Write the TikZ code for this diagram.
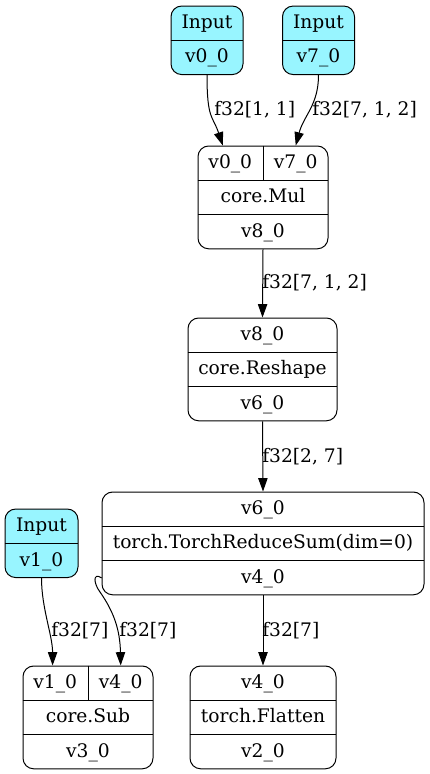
\documentclass[tikz,border=0pt]{standalone}
\usepackage{fontspec}
\setmainfont{DejaVu Serif}
\usepackage{tikz}
\usetikzlibrary{shapes,arrows.meta,positioning}
\definecolor{inputcol}{HTML}{98F5FF}
\tikzstyle{record} = [rectangle, draw, rounded corners=8pt, inner sep=0pt, line width=0.75pt]
\tikzstyle{field} = [rectangle, inner sep=0pt, minimum height=25.7pt,
    text height=11pt, text depth=3pt, font=\fontsize{14}{16}\selectfont]
\tikzstyle{edgelbl} = [anchor=west, inner sep=0pt, font=\fontsize{14}{16}\selectfont]
\tikzstyle{divider} = [line width=0.75pt]
\tikzstyle{arrow} = [line width=0.75pt, -{Triangle[length=10pt,width=7pt]}]

\begin{document}
\begin{tikzpicture}[x=0.75pt, y=-0.75pt]
		\useasboundingbox (0,0) rectangle (429,774);
		% inputs
		\node [record, fill=inputcol, minimum width=54pt, minimum height=51.4pt] (in0) at (207,40.3) {};
		\node [field, minimum width=54pt, below=0pt of in0.north] (in0-name) {Input};
		\node [field, minimum width=54pt, above=0pt of in0.south] (in0-out) {v0\_0};
		\draw [divider] (in0-name.south west) -- (in0-name.south east);

		\node [record, fill=inputcol, minimum width=54pt, minimum height=51.4pt] (in7) at (318.5,40.3) {};
		\node [field, minimum width=54pt, below=0pt of in7.north] (in7-name) {Input};
		\node [field, minimum width=54pt, above=0pt of in7.south] (in7-out) {v7\_0};
		\draw [divider] (in7-name.south west) -- (in7-name.south east);

		\node [record, fill=inputcol, minimum width=54.75pt, minimum height=51.4pt] (in1) at (41.5,543.3) {};
		\node [field, minimum width=54.75pt, below=0pt of in1.north] (in1-name) {Input};
		\node [field, minimum width=54.75pt, above=0pt of in1.south] (in1-out) {v1\_0};
		\draw [divider] (in1-name.south west) -- (in1-name.south east);

		% core.Mul
		\node [record, minimum width=97.5pt, minimum height=77.1pt] (mul) at (263,197.4) {};
		\node [field, minimum width=48.75pt, anchor=north west] (mul-in1) at (mul.north west) {v0\_0};
		\node [field, minimum width=48.75pt, anchor=north east] (mul-in2) at (mul.north east) {v7\_0};
		\node [field, minimum width=97.5pt] (mul-op) at (mul) {core.Mul};
		\node [field, minimum width=97.5pt, above=0pt of mul.south] (mul-out) {v8\_0};
		\draw [divider] (mul-in1.north east) -- (mul-in1.south east);
		\draw [divider] (mul-op.north west) -- (mul-op.north east);
		\draw [divider] (mul-op.south west) -- (mul-op.south east);

		% core.Reshape
		\node [record, minimum width=111.75pt, minimum height=77.1pt] (reshape) at (262.5,369.4) {};
		\node [field, minimum width=111.75pt, below=0pt of reshape.north] (reshape-in) {v8\_0};
		\node [field, minimum width=111.75pt] (reshape-op) at (reshape) {core.Reshape};
		\node [field, minimum width=111.75pt, above=0pt of reshape.south] (reshape-out) {v6\_0};
		\draw [divider] (reshape-op.north west) -- (reshape-op.north east);
		\draw [divider] (reshape-op.south west) -- (reshape-op.south east);

		% torch.TorchReduceSum
		\node [record, minimum width=241.5pt, minimum height=77.1pt] (reduce) at (263,543.4) {};
		\node [field, minimum width=241.5pt, below=0pt of reduce.north] (reduce-in) {v6\_0};
		\node [field, minimum width=241.5pt] (reduce-op) at (reduce) {torch.TorchReduceSum(dim=0)};
		\node [field, minimum width=241.5pt, above=0pt of reduce.south] (reduce-out) {v4\_0};
		\draw [divider] (reduce-op.north west) -- (reduce-op.north east);
		\draw [divider] (reduce-op.south west) -- (reduce-op.south east);

		% core.Sub
		\node [record, minimum width=97.5pt, minimum height=77.1pt] (sub) at (88,717.4) {};
		\node [field, minimum width=48.75pt, anchor=north west] (sub-in1) at (sub.north west) {v1\_0};
		\node [field, minimum width=48.75pt, anchor=north east] (sub-in2) at (sub.north east) {v4\_0};
		\node [field, minimum width=97.5pt] (sub-op) at (sub) {core.Sub};
		\node [field, minimum width=97.5pt, above=0pt of sub.south] (sub-out) {v3\_0};
		\draw [divider] (sub-in1.north east) -- (sub-in1.south east);
		\draw [divider] (sub-op.north west) -- (sub-op.north east);
		\draw [divider] (sub-op.south west) -- (sub-op.south east);

		% torch.Flatten
		\node [record, minimum width=109.5pt, minimum height=77.1pt] (flatten) at (263,717.4) {};
		\node [field, minimum width=109.5pt, below=0pt of flatten.north] (flatten-in) {v4\_0};
		\node [field, minimum width=109.5pt] (flatten-op) at (flatten) {torch.Flatten};
		\node [field, minimum width=109.5pt, above=0pt of flatten.south] (flatten-out) {v2\_0};
		\draw [divider] (flatten-op.north west) -- (flatten-op.north east);
		\draw [divider] (flatten-op.south west) -- (flatten-op.south east);

		% edges
		\draw [arrow] (in0-out.south) .. controls +(0,45) and +(-10,-30) .. ([xshift=-5.6pt]mul-in1.north);
		\draw [arrow] (in7-out.south) .. controls +(0,30) and +(8,-30) .. (mul-in2.north);
		\draw [arrow] (mul-out.south) -- (reshape-in.north);
		\draw [arrow] (reshape-out.south) -- (reduce-in.north);
		\draw [arrow] (reduce-out.south) -- (flatten-in.north);
		\draw [arrow] (in1-out.south) .. controls +(0,30) and +(0,-30) .. ([xshift=-2pt]sub-in1.north);
		\draw [arrow] (reduce-out.west) .. controls (92,572) and (94,584) .. (100,592)
			.. controls (114,612) and (120,630) .. (sub-in2.north);

		% edge labels
		\node [edgelbl] (lbl-in0) at (214,110) {f32[1, 1]};
		\node [edgelbl] (lbl-in7) at (312,110) {f32[7, 1, 2]};
		\node [edgelbl] (lbl-mul) at (262,283) {f32[7, 1, 2]};
		\node [edgelbl] (lbl-reshape) at (262,457) {f32[2, 7]};
		\node [edgelbl] (lbl-in1) at (51,631) {f32[7]};
		\node [edgelbl] (lbl-sub) at (119,631) {f32[7]};
		\node [edgelbl] (lbl-flatten) at (262,631) {f32[7]};
	\end{tikzpicture}
\end{document}
